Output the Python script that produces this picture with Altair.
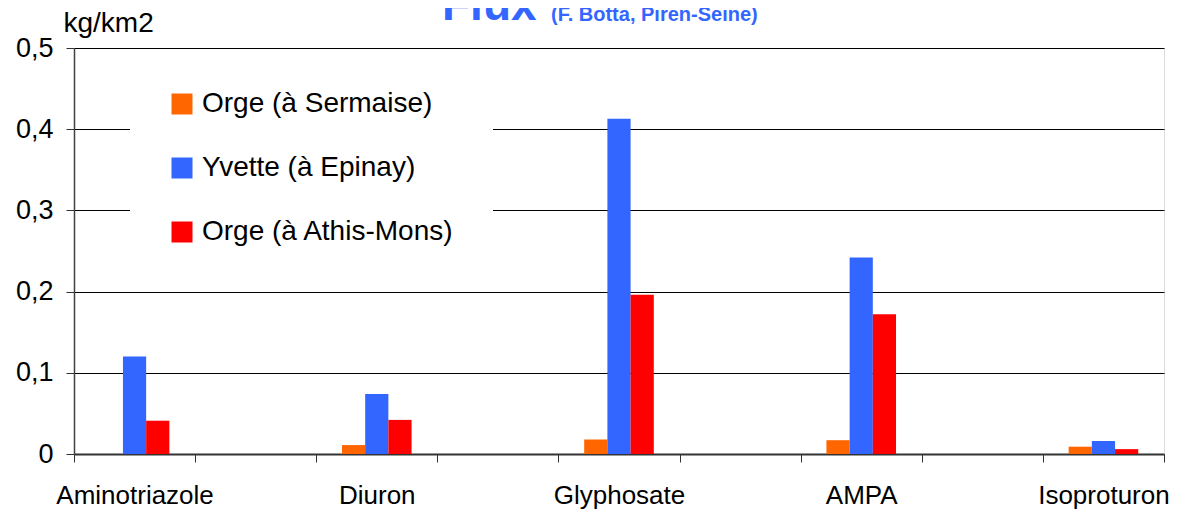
import altair as alt
import pandas as pd

# ---- data ----
categories = ["Aminotriazole", "_1", "Diuron", "_2", "Glyphosate", "_3", "AMPA", "_4", "Isoproturon"]
products = ["Aminotriazole", "Diuron", "Glyphosate", "AMPA", "Isoproturon"]
series = ["Orge (à Sermaise)", "Yvette (à Epinay)", "Orge (à Athis-Mons)"]
colors = ["#FF6600", "#3366FF", "#FF0000"]
orge_sermaise = [0.0, 0.011, 0.018, 0.017, 0.009]
yvette_epinay = [0.120, 0.074, 0.413, 0.242, 0.016]
orge_athis = [0.041, 0.042, 0.196, 0.172, 0.006]
y_ticks = [0, 0.1, 0.2, 0.3, 0.4, 0.5]

rows = []
for vals, s in zip([orge_sermaise, yvette_epinay, orge_athis], series):
    for p, v in zip(products, vals):
        rows.append({"produit": p, "serie": s, "flux": v})
df = pd.DataFrame(rows)

FONT = "Liberation Sans"
offset_domain = ["~a"] + series + ["~b"]

bars = alt.Chart(df).mark_bar().encode(
    x=alt.X("produit:N", scale=alt.Scale(domain=categories, paddingInner=0, paddingOuter=0),
            axis=alt.Axis(title=None, labelAngle=0, tickBand="extent", tickSize=8,
                          tickColor="#333333", domainColor="#333333", domainWidth=2,
                          labelFontSize=26, labelColor="black", labelPadding=20,
                          labelExpr="indexof(datum.label, '_') == 0 ? '' : datum.label",
                          grid=False, labelFont=FONT)),
    xOffset=alt.XOffset("serie:N", scale=alt.Scale(domain=offset_domain, paddingInner=0, paddingOuter=0.11)),
    y=alt.Y("flux:Q", scale=alt.Scale(domain=[0, 0.5], nice=False),
            axis=alt.Axis(values=y_ticks, title="kg/km2", titleAngle=0, titleAlign="left",
                          titleBaseline="alphabetic", titleX=-11, titleY=-17,
                          titleFontSize=28, titleFontWeight="normal", titleColor="black",
                          titleFont=FONT,
                          labelFontSize=27, labelColor="black", labelPadding=13, labelFont=FONT,
                          labelExpr="datum.value == 0 ? '0' : replace(format(datum.value, '.1f'), '.', ',')",
                          tickSize=8, tickColor="#333333", domainColor="#404040", domainWidth=1.5,
                          grid=True, gridColor="black", gridWidth=1)),
    color=alt.Color("serie:N", scale=alt.Scale(domain=series, range=colors),
                    legend=alt.Legend(title=None, orient="none", legendX=56, legendY=4,
                                      symbolType="square", symbolSize=441, symbolStrokeWidth=0,
                                      labelFontSize=28, labelFont=FONT, labelColor="black",
                                      labelLimit=500, labelOffset=6, rowPadding=36,
                                      padding=38, fillColor="white")),
)

title_df = pd.DataFrame({"t": ["Flux"]})
sub_df = pd.DataFrame({"t": ["(F. Botta, Piren-Seine)"]})

title = alt.Chart(title_df).mark_text(
    align="left", baseline="alphabetic", fontSize=46, fontWeight="bold",
    color="#3366FF", font=FONT
).encode(x=alt.value(368), y=alt.value(-28), text="t:N")

subtitle = alt.Chart(sub_df).mark_text(
    align="left", baseline="alphabetic", fontSize=20, fontWeight="bold",
    color="#3366FF", font=FONT
).encode(x=alt.value(477), y=alt.value(-27), text="t:N")

chart = alt.layer(bars, title, subtitle).properties(
    width=1090, height=406,
    autosize=alt.AutoSizeParams(type="none"),
    padding={"left": 66, "top": 40, "right": 6, "bottom": 57},
    background="white",
).configure_view(stroke="#333333", strokeWidth=1.5, fill="white").configure(font=FONT)

chart.save("out.html", embed_options={"renderer": "svg", "actions": False})
